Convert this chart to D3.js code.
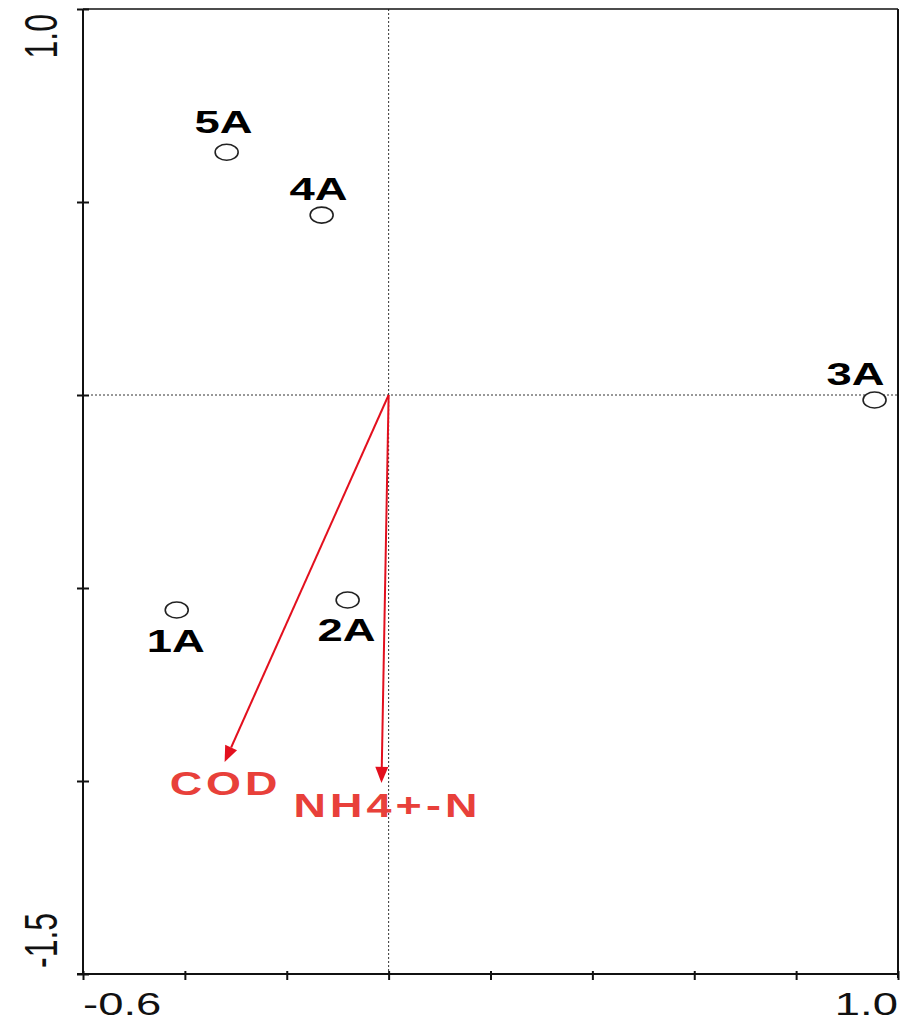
<!DOCTYPE html>
<html>
<head>
<meta charset="utf-8">
<script src="https://cdn.jsdelivr.net/npm/d3@7"></script>
<style>
  body { margin: 0; background: #fff; }
  svg { display: block; }
  text { font-family: "Liberation Sans", Arial, sans-serif; }
</style>
</head>
<body>
<svg id="chart" width="900" height="1022"></svg>
<script>
// ---- data ----
const sites = ["1A", "2A", "3A", "4A", "5A"];
const siteX = [-0.416, -0.0805, 0.954, -0.1315, -0.318];
const siteY = [-0.557, -0.531, -0.013, 0.466, 0.629];

const envVars = ["COD", "NH4+-N"];
const envX = [-0.322, -0.014];
const envY = [-0.951, -1.005];

const xTickValues = [-0.6, -0.4, -0.2, 0.0, 0.2, 0.4, 0.6, 0.8, 1.0];
const yTickValues = [-1.5, -1.0, -0.5, 0.0, 0.5, 1.0];
const xTickLabels = ["-0.6", "1.0"];
const yTickLabels = ["-1.5", "1.0"];

// ---- layout ----
const svg = d3.select("#chart");
const pL = 83, pR = 898, pT = 9, pB = 974;
const SX = 1.42; // horizontal stretch of the original picture

const x = d3.scaleLinear().domain([-0.6, 1.0]).range([pL, pR]);
const y = d3.scaleLinear().domain([-1.5, 1.0]).range([pB, pT]);

// reference lines (dotted) at 0
svg.append("line")
  .attr("x1", x(0)).attr("x2", x(0)).attr("y1", pT).attr("y2", pB)
  .attr("stroke", "#333").attr("stroke-width", 1).attr("stroke-dasharray", "2,2");
svg.append("line")
  .attr("x1", pL + 8).attr("x2", pR).attr("y1", y(0)).attr("y2", y(0))
  .attr("stroke", "#333").attr("stroke-width", 1).attr("stroke-dasharray", "2,2");

// frame: top and right
svg.append("line").attr("x1", pL).attr("x2", pR).attr("y1", pT).attr("y2", pT)
  .attr("stroke", "#111").attr("stroke-width", 1.3);
svg.append("line").attr("x1", pR).attr("x2", pR).attr("y1", pT).attr("y2", pB + 4)
  .attr("stroke", "#111").attr("stroke-width", 2);

// bottom axis
const gx = svg.append("g").attr("transform", `translate(0,${pB})`)
  .call(d3.axisBottom(x).tickValues(xTickValues).tickSize(6).tickFormat(""));
gx.select(".domain").attr("stroke", "#111").attr("stroke-width", 2)
  .attr("d", `M${pL - 6},0H${pR}`);
gx.selectAll(".tick line").attr("y1", -3).attr("y2", 6).attr("stroke", "#111").attr("stroke-width", 2);

// left axis
const gy = svg.append("g").attr("transform", `translate(${pL},0)`)
  .call(d3.axisLeft(y).tickValues(yTickValues).tickSize(6).tickFormat(""));
gy.select(".domain").attr("stroke", "#111").attr("stroke-width", 2)
  .attr("d", `M0,${pT}V${pB}`);
gy.selectAll(".tick line").attr("x1", -6).attr("x2", 6).attr("stroke", "#111").attr("stroke-width", 2);

// tick labels
const fs = 32;
svg.append("text").text(xTickLabels[0])
  .attr("transform", `translate(${x(-0.6)},1015) scale(${SX},1)`)
  .attr("font-size", fs).attr("text-anchor", "start").attr("fill", "#111");
svg.append("text").text(xTickLabels[1])
  .attr("transform", `translate(${x(1.0)},1015) scale(${SX},1)`)
  .attr("font-size", fs).attr("text-anchor", "end").attr("fill", "#111");
svg.append("text").text(yTickLabels[0])
  .attr("transform", `translate(57,${y(-1.5) - 6}) scale(${SX},1) rotate(-90)`)
  .attr("font-size", fs).attr("text-anchor", "start").attr("fill", "#111");
svg.append("text").text(yTickLabels[1])
  .attr("transform", `translate(57,${y(1.0) + 5}) scale(${SX},1) rotate(-90)`)
  .attr("font-size", fs).attr("text-anchor", "end").attr("fill", "#111");

// arrows
const red = "#e3101e";
const ox = x(0), oy = y(0);
envVars.forEach((name, i) => {
  const tx = x(envX[i]), ty = y(envY[i]);
  const ang = Math.atan2(ty - oy, tx - ox);
  const hl = 16, hw = 6.5;
  const bx = tx - hl * Math.cos(ang), by = ty - hl * Math.sin(ang);
  svg.append("line").attr("x1", ox).attr("y1", oy).attr("x2", bx).attr("y2", by)
    .attr("stroke", red).attr("stroke-width", 2);
  const p1 = [bx + hw * Math.sin(ang), by - hw * Math.cos(ang)];
  const p2 = [bx - hw * Math.sin(ang), by + hw * Math.cos(ang)];
  svg.append("path").attr("d", `M${tx},${ty}L${p1[0]},${p1[1]}L${p2[0]},${p2[1]}Z`)
    .attr("fill", red);
});

// arrow labels
const envLabelPos = [{dx: 1, dy: 33}, {dx: 6, dy: 34}];
envVars.forEach((name, i) => {
  svg.append("text").text(name)
    .attr("transform", `translate(${x(envX[i]) + envLabelPos[i].dx},${y(envY[i]) + envLabelPos[i].dy}) scale(1.36,1)`)
    .attr("font-size", 33).attr("font-weight", "bold").attr("letter-spacing", 3)
    .attr("text-anchor", "middle").attr("fill", "#e8403a");
});

// sites
const siteLabelPos = [{dx: -1, dy: 42}, {dx: -1, dy: 41}, {dx: -19, dy: -15}, {dx: -3, dy: -15}, {dx: -3, dy: -19}];
sites.forEach((name, i) => {
  const cx = x(siteX[i]), cy = y(siteY[i]);
  svg.append("ellipse").attr("cx", cx).attr("cy", cy).attr("rx", 11.5).attr("ry", 8)
    .attr("fill", "#fff").attr("stroke", "#222").attr("stroke-width", 1.6);
  svg.append("text").text(name)
    .attr("transform", `translate(${cx + siteLabelPos[i].dx},${cy + siteLabelPos[i].dy}) scale(${SX},1)`)
    .attr("font-size", 32).attr("font-weight", "bold").attr("text-anchor", "middle").attr("fill", "#000");
});
</script>
</body>
</html>
